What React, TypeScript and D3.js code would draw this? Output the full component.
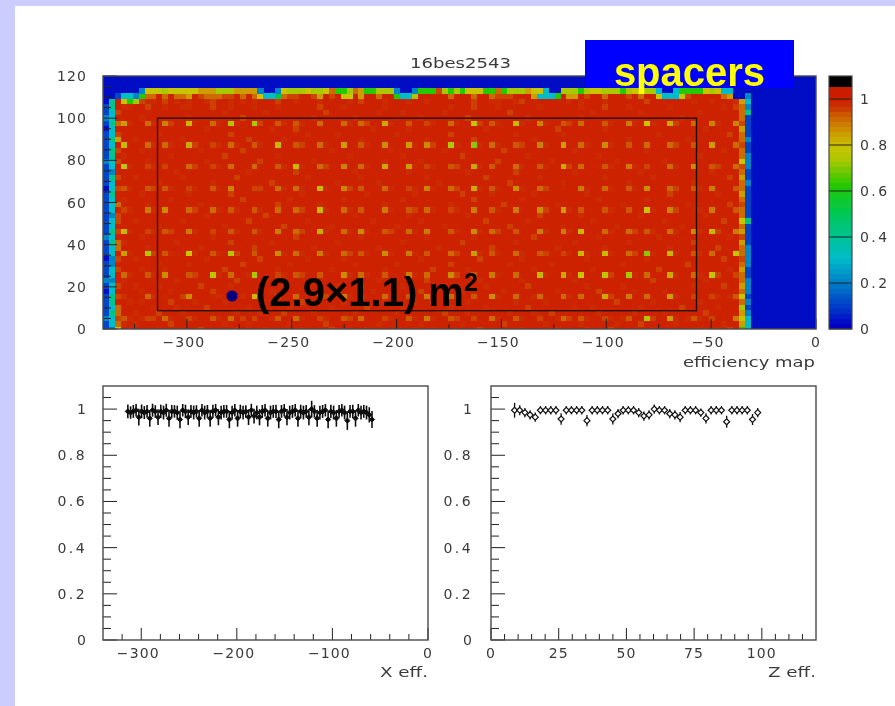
import React from "react";
import * as d3 from "d3";

// ---------- data ----------
const levelOf: Record<string, number> = { "0": 0.02, "1": 0.1, "2": 0.2, "3": 0.3, "4": 0.4, "5": 0.5, "6": 0.62, "7": 0.72, "8": 0.78, "9": 0.84, o: 0.9, r: 0.94, ".": 1 };
const topRow44 = "0000002888788888999777999920028777877" + "8o667o9667772002666r76768886 6o67779883007776788777678877300366668783300000000000000".replace(" ", "");
const topRow43 = "001332" + "6oo.o.oo9.rooorr.o.o833" + "5orr..r9.r.88.9..o..6337.....o...o..orrr...9333" + "6.99.r..o...r.o..83 38r...".replace(" ", "3") + "..o9";
const topRow42 = "04.8 67r".replace(" ", "") ;
const leftCol0 = "1121111012111011121111111101111211111012111";
const leftCol1 = "2334344332332233434332333433423344343343343";
const leftCol2 = "8oroo.r.r..r.r.oo.r.rr.o..r.r..r.r.9r.o.r.r";
const rightCol107 = "69897o8o9oo9oroo9r9o8ooro9oo9or8ooroo9rooo9o8";
const rightCol108 = "333212122211222211114111111211222112111142322";

const spacerCols = [3, 7, 10, 14, 18, 21, 25, 29, 32, 36, 40, 43, 47, 51, 54, 58, 62, 65, 69, 73, 77, 80, 84, 88, 91, 95, 99, 102, 106];
const spacerRows = [38, 34, 30, 26, 22, 18, 14, 10, 6, 2];
const spacerLevels = [
  [0.82, 0.88, 0.85, 0.78, 0.88, 0.72, 0.72, 0.9, 0.9, 0.88, 0.88, 0.88, 0.8, 0.9, 0.92, 0.88, 0.75, 0.9, 0.78, 0.85, 0.9, 0.88, 0.9, 0.86, 0.76, 0.8, 0.88, 0.85, 0.85],
  [0.78, 0.88, 0.88, 0.8, 0.92, 0.88, 0.9, 0.78, 0.9, 0.88, 0.82, 0.9, 0.84, 0.82, 0.84, 0.72, 0.68, 0.88, 0.9, 0.85, 0.82, 0.88, 0.84, 0.9, 0.88, 0.88, 0.9, 0.82, 0.88],
  [0.75, 0.92, 0.92, 0.88, 0.92, 0.88, 0.88, 0.9, 0.78, 0.88, 0.85, 0.88, 0.8, 0.82, 0.92, 0.9, 0.8, 0.9, 0.88, 0.9, 0.8, 0.88, 0.9, 0.86, 0.92, 0.88, 0.84, 0.9, 0.88],
  [0.9, 0.9, 0.9, 0.92, 0.9, 0.85, 0.92, 0.88, 0.88, 0.78, 0.85, 0.9, 0.88, 0.92, 0.85, 0.88, 0.8, 0.9, 0.84, 0.88, 0.95, 0.86, 0.88, 0.9, 0.84, 0.88, 0.9, 0.86, 0.9],
  [0.92, 0.86, 0.84, 0.88, 0.88, 0.9, 0.9, 0.88, 0.88, 0.78, 0.88, 0.9, 0.86, 0.9, 0.88, 0.92, 0.86, 0.9, 0.86, 0.84, 0.82, 0.9, 0.9, 0.9, 0.76, 0.85, 0.95, 0.86, 0.9],
  [0.78, 0.92, 0.9, 0.86, 0.92, 0.9, 0.9, 0.86, 0.88, 0.8, 0.88, 0.84, 0.9, 0.88, 0.86, 0.9, 0.84, 0.88, 0.9, 0.86, 0.86, 0.78, 0.88, 0.88, 0.9, 0.88, 0.84, 0.78, 0.86],
  [0.82, 0.72, 0.9, 0.76, 0.9, 0.72, 0.9, 0.84, 0.88, 0.86, 0.88, 0.9, 0.84, 0.86, 0.9, 0.88, 0.82, 0.9, 0.88, 0.9, 0.92, 0.78, 0.78, 0.88, 0.68, 0.78, 0.9, 0.88, 0.76],
  [0.88, 0.9, 0.84, 0.9, 0.74, 0.88, 0.72, 0.92, 0.9, 0.9, 0.84, 0.88, 0.9, 0.86, 0.88, 0.84, 0.9, 0.86, 0.88, 0.78, 0.8, 0.76, 0.74, 0.7, 0.88, 0.8, 0.88, 0.76, 0.92],
  [0.94, 0.88, 0.95, 0.84, 0.95, 0.95, 0.78, 0.9, 0.88, 0.9, 0.86, 0.92, 0.88, 0.9, 0.86, 0.88, 0.9, 0.84, 0.88, 0.88, 0.88, 0.88, 0.8, 0.86, 0.88, 0.82, 0.92, 0.92, 0.9],
  [0.9, 0.92, 0.88, 0.92, 0.9, 0.88, 0.92, 0.9, 0.88, 0.92, 0.9, 0.88, 0.92, 0.9, 0.86, 0.9, 0.92, 0.88, 0.9, 0.92, 0.88, 0.9, 0.92, 0.9, 0.72, 0.82, 0.9, 0.92, 0.86],
];
const faintCells = [
  [4, 9, 16, 22, 27, 33, 38, 44, 52, 55, 63, 70, 76, 81, 85, 92, 100, 103, 105],
  [3, 5, 11, 20, 24, 31, 37, 46, 53, 60, 67, 74, 80, 86, 90, 96, 104],
  [4, 6, 8, 11, 15, 19, 23, 28, 33, 37, 41, 48, 52, 55, 59, 66, 70, 76, 78, 81, 85, 87, 92, 96, 98, 100],
  [2, 5, 9, 13, 22, 26, 30, 35, 42, 49, 57, 61, 68, 72, 75, 83, 89, 94, 101],
  [8, 12, 17, 24, 31, 38, 44, 50, 58, 64, 71, 79, 82, 90, 97, 103],
  [4, 6, 11, 15, 20, 28, 33, 40, 47, 52, 55, 61, 69, 74, 86, 92, 100],
  [2, 8, 13, 19, 23, 26, 37, 41, 48, 59, 62, 66, 72, 78, 85, 96, 103, 105],
  [6, 11, 18, 28, 34, 45, 53, 60, 67, 76, 83, 89, 94],
  [5, 9, 16, 21, 30, 39, 43, 50, 57, 64, 71, 81, 87, 99, 104],
  [3, 12, 22, 27, 35, 46, 54, 63, 70, 79, 92, 101],
  [4, 8, 15, 19, 24, 30, 33, 41, 44, 52, 59, 66, 74, 78, 85, 89, 96, 100, 103],
  [6, 10, 20, 29, 38, 47, 55, 61, 72, 82, 93, 105],
  [9, 14, 23, 31, 42, 49, 58, 68, 75, 87, 98],
  [5, 17, 26, 34, 40, 53, 63, 70, 81, 91, 104],
  [2, 4, 8, 11, 15, 19, 22, 30, 33, 37, 41, 44, 48, 52, 59, 63, 66, 70, 74, 78, 81, 85, 89, 92, 96, 100],
  [7, 16, 25, 35, 46, 56, 65, 76, 84, 95, 103],
  [3, 12, 21, 28, 39, 50, 60, 69, 79, 88, 99],
  [6, 18, 32, 43, 54, 62, 72, 83, 93, 105],
  [4, 8, 11, 15, 22, 26, 33, 37, 41, 44, 48, 52, 59, 63, 66, 74, 78, 85, 89, 92, 96, 100, 103],
  [9, 20, 30, 38, 49, 57, 68, 77, 86, 97],
  [5, 13, 24, 34, 45, 53, 64, 71, 82, 94, 104],
  [2, 17, 27, 42, 51, 61, 73, 80, 90, 101],
  [4, 8, 15, 19, 22, 26, 33, 37, 41, 48, 52, 55, 59, 66, 74, 78, 85, 92, 96, 100],
  [7, 16, 29, 36, 47, 58, 67, 76, 87, 98, 105],
  [3, 11, 23, 31, 40, 50, 62, 70, 83, 91],
  [6, 14, 21, 33, 44, 52, 60, 65, 72, 81, 95, 103],
  [2, 4, 8, 11, 15, 19, 26, 30, 33, 37, 41, 48, 52, 55, 59, 63, 66, 70, 74, 81, 85, 89, 96, 100],
  [9, 18, 28, 39, 46, 56, 68, 77, 88, 99],
  [5, 13, 22, 34, 43, 54, 64, 73, 84, 92, 105],
  [12, 24, 32, 42, 51, 61, 69, 79, 90, 102],
  [4, 8, 15, 19, 30, 33, 37, 44, 52, 55, 59, 63, 70, 74, 78, 85, 89, 96, 103],
  [7, 17, 26, 35, 47, 53, 66, 75, 86, 94],
  [3, 11, 20, 29, 41, 50, 60, 71, 83, 100],
  [6, 16, 23, 38, 48, 57, 67, 79, 91, 104],
  [8, 11, 15, 19, 22, 26, 33, 37, 44, 52, 55, 59, 63, 66, 70, 74, 81, 85, 96],
  [5, 13, 24, 30, 43, 54, 62, 72, 88, 98],
  [2, 9, 21, 34, 39, 49, 58, 69, 77, 93, 105],
  [17, 28, 32, 45, 51, 64, 76, 84, 101],
  [4, 8, 11, 15, 19, 22, 26, 30, 33, 41, 44, 48, 55, 59, 63, 66, 70, 74, 78, 85, 89, 92, 96, 103],
  [6, 14, 23, 35, 42, 53, 61, 71, 80, 97],
  [20, 27, 37, 46, 50, 57, 68, 82, 90, 100],
  [3, 4, 7, 10, 13, 14, 18, 21, 25, 29, 36, 40, 47, 58, 62, 66, 73, 80, 84, 88, 95, 104, 106],
  [7, 8, 10, 12, 14, 17, 18, 21, 23, 25, 29, 32, 36, 41, 43, 47, 51, 54, 62, 65, 66, 69, 70, 78, 80, 84, 91, 99, 102, 106],
];
const boxX = [-314, -57];
const boxY = [8.7, 100];

const xEffValues = [0.99, 0.985, 0.99, 0.995, 0.965, 0.99, 0.985, 0.99, 0.96, 0.995, 0.99, 0.965, 0.99, 0.985, 0.995, 0.96, 0.99, 0.99, 0.985, 0.955, 0.995, 0.99, 0.965, 0.99, 0.985, 0.99, 0.96, 0.995, 0.985, 0.99, 0.96, 0.99, 0.995, 0.965, 0.985, 0.99, 0.99, 0.955, 0.985, 0.995, 0.96, 0.99, 0.985, 0.99, 0.965, 0.995, 0.97, 0.985, 0.965, 0.99, 0.995, 0.96, 0.985, 0.99, 0.99, 0.955, 0.99, 0.995, 0.965, 0.985, 0.99, 0.995, 0.96, 0.99, 0.985, 0.99, 0.965, 1.0, 0.99, 0.96, 0.985, 0.99, 0.995, 0.955, 0.99, 0.985, 0.96, 0.99, 0.995, 0.985, 0.95, 0.99, 0.99, 0.96, 0.995, 0.985, 0.99, 0.985, 0.975, 0.955];
const xEffErrors = [0.03, 0.027, 0.028, 0.027, 0.036, 0.03, 0.028, 0.028, 0.036, 0.028, 0.027, 0.034, 0.029, 0.03, 0.028, 0.037, 0.028, 0.027, 0.03, 0.038, 0.027, 0.029, 0.034, 0.028, 0.03, 0.027, 0.036, 0.027, 0.03, 0.028, 0.037, 0.029, 0.027, 0.035, 0.03, 0.028, 0.028, 0.038, 0.03, 0.027, 0.036, 0.029, 0.03, 0.027, 0.034, 0.028, 0.032, 0.03, 0.035, 0.028, 0.027, 0.036, 0.03, 0.028, 0.029, 0.038, 0.028, 0.027, 0.035, 0.03, 0.028, 0.027, 0.036, 0.029, 0.03, 0.028, 0.035, 0.036, 0.027, 0.037, 0.03, 0.028, 0.027, 0.038, 0.029, 0.03, 0.036, 0.028, 0.027, 0.03, 0.04, 0.028, 0.029, 0.036, 0.027, 0.03, 0.028, 0.03, 0.033, 0.037];
const zEffValues = [0.995, 0.995, 0.985, 0.975, 0.965, 0.995, 0.995, 0.995, 0.995, 0.957, 0.995, 0.995, 0.995, 0.995, 0.95, 0.995, 0.995, 0.995, 0.995, 0.957, 0.98, 0.995, 0.995, 0.995, 0.985, 0.97, 0.975, 1.0, 0.995, 0.995, 0.98, 0.975, 0.965, 0.995, 0.995, 0.995, 0.985, 0.96, 0.995, 0.995, 0.995, 0.945, 0.995, 0.995, 0.995, 0.995, 0.955, 0.985];
const zEffErrors = [0.032, 0.022, 0.02, 0.02, 0.02, 0.018, 0.018, 0.018, 0.018, 0.025, 0.018, 0.018, 0.018, 0.018, 0.024, 0.018, 0.018, 0.018, 0.018, 0.024, 0.02, 0.018, 0.018, 0.018, 0.02, 0.02, 0.02, 0.02, 0.018, 0.018, 0.02, 0.02, 0.022, 0.018, 0.018, 0.018, 0.018, 0.022, 0.018, 0.018, 0.018, 0.026, 0.018, 0.018, 0.018, 0.018, 0.024, 0.02];

const mapYTicks = [0, 20, 40, 60, 80, 100, 120];
const mapXTicks = [-300, -250, -200, -150, -100, -50, 0];
const barTicks = [0, 0.2, 0.4, 0.6, 0.8, 1];
const effYTicks = [0, 0.2, 0.4, 0.6, 0.8, 1];
const xEffTicks = [-300, -200, -100, 0];
const zEffTicks = [0, 25, 50, 75, 100];

// ---------- scales ----------
const colorStops = [0, 0.1, 0.2, 0.3, 0.4, 0.5, 0.62, 0.72, 0.78, 0.84, 0.9, 0.94, 0.975, 1.05];
const colorRange = ["#0000c4", "#0044c8", "#0084c8", "#00bcc8", "#00c48c", "#00c850", "#28c800", "#a8c800", "#c8c400", "#cc9c00", "#cc6c00", "#cc4400", "#cc2200", "#cc1c00"];
const color = d3.scaleLinear<string>().domain(colorStops).range(colorRange).clamp(true);
const FONT = "'DejaVu Sans', sans-serif";
const INK = "#3a3a3a";
const fmt = (v: number) => (v < 0 ? "\u2212" + Math.abs(v) : String(v));

const mx = d3.scaleLinear().domain([-340, 0]).range([103, 816]);
const my = d3.scaleLinear().domain([0, 120]).range([329, 76]);
const barY = d3.scaleLinear().domain([0, 1.1]).range([329, 76]);
const lx = d3.scaleLinear().domain([-340, 0]).range([103, 428]);
const rx = d3.scaleLinear().domain([0, 120]).range([491, 816]);
const ey = d3.scaleLinear().domain([0, 1.1]).range([640, 386]);

const NCOLS = 120;
const NROWS = 47;
const COLW = 340 / NCOLS;
const ROWH = 2.57;

function buildGrid(): number[][] {
  const grid: number[][] = [];
  for (let r = 0; r < NROWS; r++) grid.push(new Array(NCOLS).fill(0.02));
  const ch = (s: string, i: number) => levelOf[s[i]] ?? 1;
  for (let r = 0; r <= 42; r++) {
    for (let c = 2; c <= 106; c++) grid[r][c] = 1;
    (faintCells[r] || []).forEach((c, i) => (grid[r][c] = i % 4 === 2 ? 0.945 : 0.965));
    grid[r][0] = ch(leftCol0, r);
    grid[r][1] = ch(leftCol1, r);
    grid[r][2] = ch(leftCol2, r);
    grid[r][107] = ch(rightCol107, r);
    grid[r][108] = ch(rightCol108, r);
  }
  spacerRows.forEach((r, i) => spacerCols.forEach((c, j) => (grid[r][c] = spacerLevels[i][j] + 0.02)));
  for (let c = 0; c < NCOLS; c++) {
    if (c < topRow44.length) grid[44][c] = ch(topRow44, c);
    if (c < topRow43.length) grid[43][c] = ch(topRow43, c);
    if (c < topRow42.length) grid[42][c] = ch(topRow42, c);
  }
  grid[43][108] = 0.2;
  grid[44][108] = 0.02;
  return grid;
}

function Frame({ x0, x1, y0, y1 }: { x0: number; x1: number; y0: number; y1: number }) {
  return <rect x={x0} y={y0} width={x1 - x0} height={y1 - y0} fill="none" stroke="#4a4a4a" strokeWidth={1.4} />;
}

function XAxis({ scale, y, major, minor, len }: { scale: any; y: number; major: number[]; minor: number[]; len: number }) {
  return (
    <g>
      {minor.map((v) => <line key={"m" + v} x1={scale(v)} x2={scale(v)} y1={y} y2={y - len / 2} stroke="#222" strokeWidth={1} />)}
      {major.map((v) => <line key={"M" + v} x1={scale(v)} x2={scale(v)} y1={y} y2={y - len} stroke="#222" strokeWidth={1} />)}
      {major.map((v) => (
        <text key={v} x={scale(v) - (v < 0 ? 3 : 0)} y={y + 18} textAnchor="middle" fontFamily={FONT} fontSize={14} letterSpacing={1.1} fill={INK}>{fmt(v)}</text>
      ))}
    </g>
  );
}

function YAxis({ scale, x, major, minor, labelX }: { scale: any; x: number; major: number[]; minor: number[]; labelX: number }) {
  return (
    <g>
      {minor.map((v) => <line key={"m" + v} x1={x} x2={x + 8} y1={scale(v)} y2={scale(v)} stroke="#222" strokeWidth={1} />)}
      {major.map((v) => <line key={"M" + v} x1={x} x2={x + 14} y1={scale(v)} y2={scale(v)} stroke="#222" strokeWidth={1} />)}
      {major.map((v) => (
        <text key={v} x={labelX} y={scale(v) + 5} textAnchor="end" fontFamily={FONT} fontSize={14} letterSpacing={String(v).includes(".") ? 2.4 : 1.1} fill={INK}>{v}</text>
      ))}
    </g>
  );
}

function Label({ x, y, w, children }: { x: number; y: number; w: number; children: string }) {
  return (
    <text x={x} y={y} fontFamily={FONT} fontSize={14} textLength={w} lengthAdjust="spacingAndGlyphs" fill={INK}>{children}</text>
  );
}

function Errors({ xs, vals, errs, sx, open }: { xs: number[]; vals: number[]; errs: number[]; sx: any; open: boolean }) {
  const size = open ? 3 : 2.6;
  const diamond = d3.line<[number, number]>();
  return (
    <g>
      {xs.map((x, i) => {
        const px = sx(x);
        const py = ey(vals[i]);
        return (
          <g key={i}>
            <line x1={px} x2={px} y1={ey(vals[i] + errs[i])} y2={ey(vals[i] - errs[i])} stroke="#111" strokeWidth={open ? 1.3 : 1.6} />
            <path
              d={diamond([[px - size, py], [px, py - size], [px + size, py], [px, py + size]])! + "Z"}
              fill={open ? "#fff" : "#111"}
              stroke="#111"
              strokeWidth={open ? 1.2 : 1}
            />
          </g>
        );
      })}
    </g>
  );
}

export default function App() {
  const grid = buildGrid();
  const mapMinorX = d3.range(-325, 0, 25).filter((v) => v % 50 !== 0);
  const mapMinorY = d3.range(0, 121, 5).filter((v) => v % 20 !== 0);
  const effMinorY = d3.range(0, 22).map((i) => i * 0.05).filter((_, i) => i % 4 !== 0);
  const lMinor = d3.range(-320, 0, 20).filter((v) => v % 100 !== 0);
  const rMinor = d3.range(0, 120, 5).filter((v) => v % 25 !== 0);
  const xPts = xEffValues.map((_, i) => -314 + i * 2.87);
  const zPts = zEffValues.map((_, i) => 8.7 + i * 1.91);
  const bands = d3.range(0, 50).map((i) => (i * 1.1) / 50);

  return (
    <svg width={895} height={706} style={{ position: "fixed", left: 0, top: 0, background: "#fff" }}>
      <defs>
        <clipPath id="map"><rect x={103} y={76} width={713} height={253} /></clipPath>
        <filter id="soft" filterUnits="userSpaceOnUse" x={0} y={0} width={895} height={706}>
          <feGaussianBlur stdDeviation={0.4} />
        </filter>
      </defs>
      <rect x={0} y={0} width={895} height={6} fill="#ccccff" />
      <rect x={0} y={0} width={15} height={706} fill="#ccccff" />

      <g filter="url(#soft)">
        <rect x={103} y={76} width={713} height={253} fill={color(0.02)} />
        <g clipPath="url(#map)" shapeRendering="crispEdges">
          {grid.map((row, r) =>
            row.map((v, c) =>
              v <= 0.02 ? null : (
                <rect
                  key={r + "-" + c}
                  x={mx(-340 + c * COLW)}
                  width={mx(COLW) - mx(0) + 0.3}
                  y={my((r + 0.5) * ROWH)}
                  height={my(0) - my(ROWH) + 0.3}
                  fill={color(v)}
                />
              )
            )
          )}
        </g>
        <rect x={mx(boxX[0])} y={my(boxY[1])} width={mx(boxX[1]) - mx(boxX[0])} height={my(boxY[0]) - my(boxY[1])} fill="none" stroke="#1a0a00" strokeWidth={1.3} />
        <XAxis scale={mx} y={329} major={mapXTicks} minor={mapMinorX} len={10} />
        <YAxis scale={my} x={103} major={mapYTicks} minor={mapMinorY} labelX={87} />
        <Frame x0={103} x1={816} y0={76} y1={329} />
        <Label x={410} y={68} w={101}>16bes2543</Label>
        <Label x={683} y={367} w={132}>efficiency map</Label>

        {bands.map((v, i) => (
          <rect key={i} x={829} width={23} y={barY(v + 1.1 / 50)} height={barY(v) - barY(v + 1.1 / 50) + 0.4} fill={v >= 1.04 ? "#000" : color(v)} shapeRendering="crispEdges" />
        ))}
        {barTicks.map((v) => (
          <g key={v}>
            <line x1={829} x2={852} y1={barY(v)} y2={barY(v)} stroke="#222" strokeWidth={1} />
            <text x={860} y={barY(v) + 5} fontFamily={FONT} fontSize={14} letterSpacing={String(v).includes(".") ? 2.4 : 1.1} fill={INK}>{v}</text>
          </g>
        ))}
        <rect x={829} y={76} width={23} height={253} fill="none" stroke="#4a4a4a" strokeWidth={1.2} />

        <Errors xs={xPts} vals={xEffValues} errs={xEffErrors} sx={lx} open={false} />
        <XAxis scale={lx} y={640} major={xEffTicks} minor={lMinor} len={12} />
        <YAxis scale={ey} x={103} major={effYTicks} minor={effMinorY} labelX={87} />
        <Frame x0={103} x1={428} y0={386} y1={640} />
        <Label x={380} y={677} w={48}>X eff.</Label>

        <Errors xs={zPts} vals={zEffValues} errs={zEffErrors} sx={rx} open={true} />
        <XAxis scale={rx} y={640} major={zEffTicks} minor={rMinor} len={12} />
        <YAxis scale={ey} x={491} major={effYTicks} minor={effMinorY} labelX={473} />
        <Frame x0={491} x1={816} y0={386} y1={640} />
        <Label x={768} y={677} w={48}>Z eff.</Label>

        <rect x={585} y={40} width={209} height={48} fill="#0000ff" />
        <text x={689.5} y={86} textAnchor="middle" fontFamily="'Liberation Sans', Arial, sans-serif" fontWeight="bold" fontSize={40} fill="#ffff00">spacers</text>
        <circle cx={232} cy={296} r={5.5} fill="#000080" />
        <text x={256} y={306} fontFamily="'Liberation Sans', Arial, sans-serif" fontWeight="bold" fontSize={40} fill="#000">
          (2.9×1.1) m<tspan dy={-15} fontSize={25}>2</tspan>
        </text>
      </g>
    </svg>
  );
}
